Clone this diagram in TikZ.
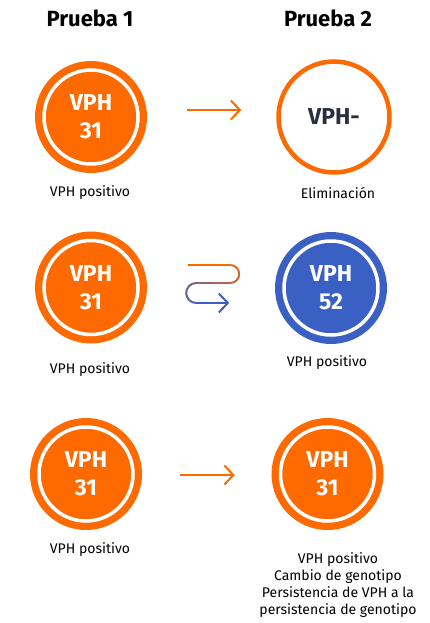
\documentclass[tikz,border=0pt]{standalone}
\usepackage{fontspec}
\setmainfont{Fira Sans}
\usepackage{tikz}
\usetikzlibrary{arrows.meta,positioning}
\definecolor{vphorange}{HTML}{FF6A00}
\definecolor{vphblue}{HTML}{3B60C4}
\definecolor{vphnavy}{HTML}{2B2D42}

\tikzset{
  vphfill/.style={circle,fill=#1,minimum size=112pt,inner sep=0pt,text=white,align=center,
    font=\fontsize{23}{28}\selectfont\bfseries,
    path picture={\draw[white,line width=3.5pt] (path picture bounding box.center) circle (47pt);}},
  vphring/.style={circle,draw=vphorange,line width=4.5pt,fill=white,minimum size=111pt,inner sep=0pt,
    text=vphnavy,font=\fontsize{23}{28}\selectfont\bfseries},
  caption/.style={font=\fontsize{14}{16.7}\selectfont,align=center,inner sep=0pt},
  title/.style={font=\fontsize{22}{26}\selectfont\bfseries,inner sep=0pt},
  flow/.style={vphorange,line width=2pt,-{Straight Barb[length=9pt,width=19pt]}}
}

\begin{document}
\begin{tikzpicture}[x=1pt,y=-1pt]
  \useasboundingbox (0,0) rectangle (429,623);
  % Titles
  \node[title] (t1) at (90,18) {Prueba 1};
  \node[title] (t2) at (328,18) {Prueba 2};

  % Row 1
  \node[vphfill=vphorange] (a1) at (91,117) {VPH\\31};
  \node[vphring]           (b1) at (334,117) {VPH-};
  \node[caption] (la1) at (90,193) {VPH positivo};
  \node[caption] (lb1) at (338,193) {Eliminación};
  \draw[flow] ([xshift=40pt,yshift=7pt]a1.east) -- ([xshift=-35pt,yshift=7pt]b1.west);

  % Row 2
  \node[vphfill=vphorange] (a2) at (91,287.5) {VPH\\31};
  \node[vphfill=vphblue]   (b2) at (331,288) {VPH\\52};
  \node[caption] (la2) at (90,370) {VPH positivo};
  \node[caption] (lb2) at (327,363) {VPH positivo};
  \coordinate (w0) at ([xshift=41pt,yshift=22.5pt]a2.east);
  \draw[vphorange,line width=2pt] (w0) -- ++(42,0) coordinate (w1);
  \draw[vphorange!85!vphblue,line width=2pt] (w1) arc[start angle=-90,end angle=0,radius=9] coordinate (w2);
  \draw[vphorange!70!vphblue,line width=2pt] (w2) arc[start angle=0,end angle=90,radius=9] coordinate (w3);
  \draw[vphorange!60!vphblue,line width=2pt] (w3) -- ++(-17,0) coordinate (w4);
  \draw[vphorange!42!vphblue,line width=2pt] (w4) -- ++(-17,0) coordinate (w5);
  \draw[vphorange!30!vphblue,line width=2pt] (w5) arc[start angle=270,end angle=180,radius=10] coordinate (w6);
  \draw[vphorange!15!vphblue,line width=2pt] (w6) arc[start angle=180,end angle=90,radius=10] coordinate (w7);
  \draw[flow,vphblue] (w7) -- ++(33,0);

  % Row 3
  \node[vphfill=vphorange] (a3) at (86,474) {VPH\\31};
  \node[vphfill=vphorange] (b3) at (327.5,474) {VPH\\31};
  \node[caption] (la3) at (90,550) {VPH positivo};
  \node[caption] (lb3) at (338,585) {VPH positivo\\Cambio de genotipo\\Persistencia de VPH a la\\persistencia de genotipo};
  \draw[flow] ([xshift=38pt,yshift=-1pt]a3.east) -- ([xshift=-36.5pt,yshift=-1pt]b3.west);
\end{tikzpicture}
\end{document}
